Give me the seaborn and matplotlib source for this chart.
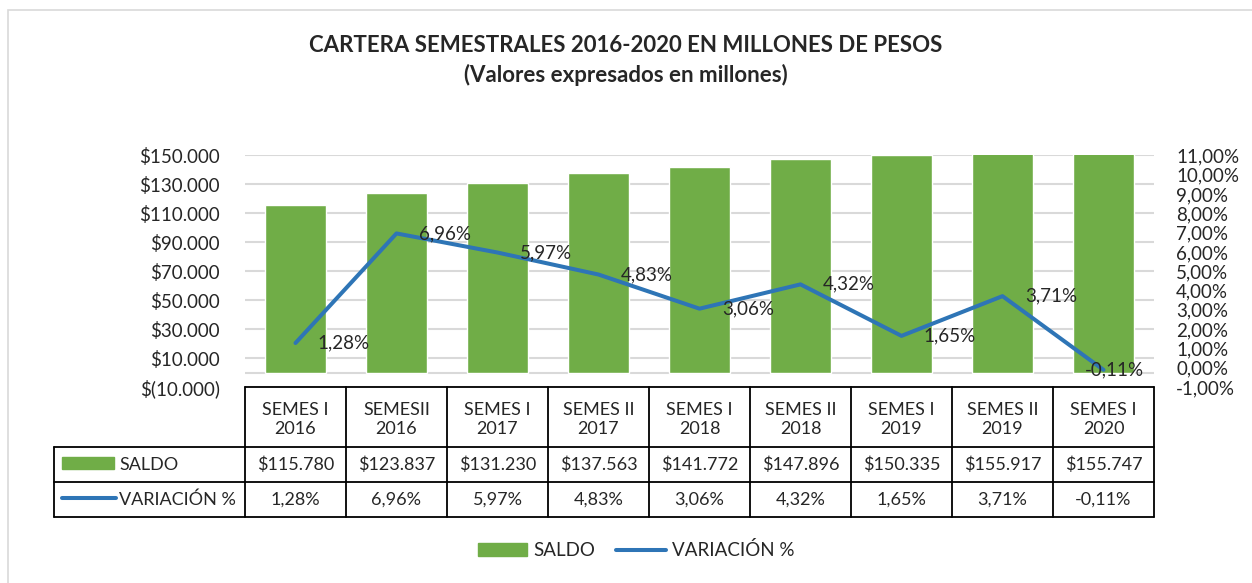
import numpy as np
import pandas as pd
import seaborn as sns
import matplotlib.pyplot as plt
from matplotlib.ticker import FuncFormatter
from matplotlib.transforms import blended_transform_factory
from matplotlib.patches import Rectangle
from matplotlib.lines import Line2D

# datos
periodos = ["SEMES I\n2016", "SEMESII\n2016", "SEMES I\n2017", "SEMES II\n2017", "SEMES I\n2018",
            "SEMES II\n2018", "SEMES I\n2019", "SEMES II\n2019", "SEMES I\n2020"]
saldo = [115780, 123837, 131230, 137563, 141772, 147896, 150335, 155917, 155747]
variacion = [1.28, 6.96, 5.97, 4.83, 3.06, 4.32, 1.65, 3.71, -0.11]

VERDE = "#70AD47"
AZUL = "#2E75B6"
GRIS = "#D9D9D9"

W, H = 1252, 583
sns.set_style("white")
plt.rcParams['font.family'] = ['Lato', 'DejaVu Sans']


def fx(x):
    return x / W


def fy(y):
    return 1 - y / H


def pesos(v, pos=None):
    if v < 0:
        return "$(" + f"{-v:,.0f}".replace(",", ".") + ")"
    return "$" + f"{v:,.0f}".replace(",", ".")


def pct(v, pos=None):
    return f"{v:.2f}%".replace(".", ",")


fig = plt.figure(figsize=(W / 100, H / 100), dpi=100)

# borde del area del grafico
fig.add_artist(Rectangle((fx(8), fy(640)), 2, fy(10) - fy(640), transform=fig.transFigure,
                         fill=False, ec=GRIS, lw=1.2))

ax = fig.add_axes([fx(245), fy(387), fx(1154) - fx(245), fy(155.5) - fy(387)])
df = pd.DataFrame({"periodo": periodos, "saldo": saldo, "variacion": variacion})
sns.barplot(data=df, x="periodo", y="saldo", color=VERDE, saturation=1, width=0.61, ax=ax, zorder=2)

ax.set_ylim(-10000, 150000)
ax.set_yticks(range(-10000, 150001, 20000))
ax.yaxis.set_major_formatter(FuncFormatter(pesos))
ax.grid(axis="y", color=GRIS, lw=1.5, zorder=0)
ax.axhline(0, color=GRIS, lw=1.5, zorder=1)
ax.set_axisbelow(True)
ax.tick_params(axis="y", length=0, pad=18, labelsize=13.5)
ax.tick_params(axis="x", bottom=False, labelbottom=False)
ax.set_xlabel("")
ax.set_ylabel("")
for s in ax.spines.values():
    s.set_visible(False)

ax2 = ax.twinx()
x = np.arange(len(periodos))
sns.lineplot(x=x, y=variacion, color=AZUL, lw=2.9, ax=ax2)
ax2.set_ylim(-1, 11)
ax2.set_yticks(range(-1, 12))
ax2.yaxis.set_major_formatter(FuncFormatter(pct))
ax2.tick_params(axis="y", length=0, pad=16, labelsize=13.5)
ax2.set_ylabel("")
for s in ax2.spines.values():
    s.set_visible(False)

n = len(periodos)
borde = blended_transform_factory(ax2.transAxes, ax2.transData)
for i, v in enumerate(variacion):
    if i == n - 1:
        # la ultima etiqueta queda dentro del area de trazado
        ax2.annotate(pct(v), (1, v), xycoords=borde, xytext=(-7, 0), textcoords="offset points",
                     ha="right", va="center", fontsize=13.5)
    else:
        ax2.annotate(pct(v), (i, v), xytext=(16, 0), textcoords="offset points",
                     ha="left", va="center", fontsize=13.5)
ax.set_xlim(-0.5, n - 0.5)

# tabla de datos
tr = blended_transform_factory(ax.transData, fig.transFigure)
lw_t = 1.3
fig.add_artist(Line2D([-0.5, n - 0.5], [fy(387), fy(387)], transform=tr, color="black", lw=lw_t))
for yy in [447, 482, 517]:
    fig.add_artist(Line2D([fx(54), fx(1154)], [fy(yy), fy(yy)], transform=fig.transFigure,
                          color="black", lw=lw_t))
fig.add_artist(Line2D([fx(54), fx(54)], [fy(447), fy(517)], transform=fig.transFigure,
                      color="black", lw=lw_t))
for i in range(n + 1):
    fig.add_artist(Line2D([i - 0.5, i - 0.5], [fy(387), fy(517)], transform=tr, color="black", lw=lw_t))
for i in range(n):
    fig.text(i, fy(419.5), periodos[i], transform=tr, ha="center", va="center",
             fontsize=13, linespacing=1.3)
    fig.text(i, fy(465), pesos(saldo[i]), transform=tr, ha="center", va="center", fontsize=13)
    fig.text(i, fy(500), pct(variacion[i]), transform=tr, ha="center", va="center", fontsize=13)

fig.add_artist(Rectangle((fx(62), fy(469)), fx(114) - fx(62), fy(457) - fy(469),
                         transform=fig.transFigure, color=VERDE))
fig.add_artist(Line2D([fx(62), fx(116)], [fy(498), fy(498)], transform=fig.transFigure,
                      color=AZUL, lw=2.9, solid_capstyle="round"))
fig.text(fx(119), fy(465), "SALDO", ha="left", va="center", fontsize=13)
fig.text(fx(119), fy(500), "VARIACIÓN %", ha="left", va="center", fontsize=13)

# titulo
fig.text(0.5, fy(45), "CARTERA SEMESTRALES 2016-2020 EN MILLONES DE PESOS", ha="center", va="center",
         fontsize=16, fontweight="bold")
fig.text(0.5, fy(75), "(Valores expresados en millones)", ha="center", va="center",
         fontsize=16, fontweight="bold")

# leyenda
handles = [Rectangle((0, 0), 1, 1, color=VERDE), Line2D([0], [0], color=AZUL, lw=2.9)]
fig.legend(handles, ["SALDO", "VARIACIÓN %"], loc="center", bbox_to_anchor=(0.508, fy(550)), ncol=2,
           frameon=False, fontsize=13.5, handlelength=2.65, handleheight=0.65, handletextpad=0.33,
           columnspacing=1.1)

fig.savefig("out.png", dpi=100)
